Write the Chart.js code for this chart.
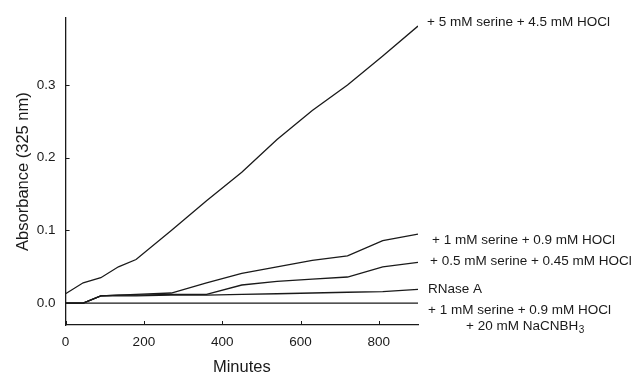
<!DOCTYPE html>
<html>
<head>
<meta charset="utf-8">
<script src="https://cdn.jsdelivr.net/npm/chart.js@4"></script>
<style>
  html, body { margin: 0; padding: 0; background: #fff; }
  #wrap { width: 638px; height: 375px; }
</style>
</head>
<body>
<div id="wrap"><canvas id="chart"></canvas></div>
<script>
// minutes
const minutes = [0, 45, 90, 135, 180, 270, 360, 450, 540, 630, 720, 810, 900];

// absorbance at 325 nm
const serine5 = [0.013, 0.028, 0.035, 0.05, 0.06, 0.1, 0.141, 0.18, 0.225, 0.265, 0.3, 0.34, 0.381];
const serine1 = [0, 0, 0.01, 0.011, 0.012, 0.014, 0.028, 0.041, 0.05, 0.059, 0.065, 0.086, 0.095];
const serine05 = [0, 0, 0.01, 0.011, 0.011, 0.012, 0.012, 0.025, 0.03, 0.033, 0.036, 0.05, 0.056];
const rnase = [0, 0, 0.01, 0.01, 0.01, 0.011, 0.011, 0.012, 0.013, 0.014, 0.015, 0.016, 0.019];
const cnbh = [0, 0, 0, 0, 0, 0, 0, 0, 0, 0, 0, 0, 0];

const seriesNames = [
    '+ 5 mM serine + 4.5 mM HOCl',
    '+ 1 mM serine + 0.9 mM HOCl',
    '+ 0.5 mM serine + 0.45 mM HOCl',
    'RNase A',
    '+ 1 mM serine + 0.9 mM HOCl'
];
const yTicks = [0, 0.1, 0.2, 0.3];
const xTicks = [0, 200, 400, 600, 800];

const FONT = 'Liberation Sans, Arial, sans-serif';
const INK = '#1a1a1a';

function pts(ys) {
    return ys.map((y, i) => ({ x: minutes[i], y: y }));
}

// right side labels, offset in pixels from the end of each line
const labelOffsets = [
    { dx: 9, dy: -4 },
    { dx: 14, dy: 6 },
    { dx: 12, dy: -1 },
    { dx: 10, dy: 0 },
    { dx: 10, dy: 7 }
];

const sideLabels = {
    id: 'sideLabels',
    afterDraw(chart) {
        const c = chart.ctx;
        const xs = chart.scales.x, ys = chart.scales.y;
        const area = chart.chartArea;

        // inward tick marks
        c.save();
        c.strokeStyle = INK;
        c.lineWidth = 1;
        yTicks.forEach(v => {
            const py = Math.round(ys.getPixelForValue(v)) + 0.5;
            c.beginPath();
            c.moveTo(area.left, py);
            c.lineTo(area.left + 4, py);
            c.stroke();
        });
        xTicks.forEach(v => {
            const px = Math.round(xs.getPixelForValue(v)) + 0.5;
            c.beginPath();
            c.moveTo(px, area.bottom);
            c.lineTo(px, area.bottom - 4);
            c.stroke();
        });

        // series labels
        c.fillStyle = INK;
        c.font = '13.5px ' + FONT;
        c.textBaseline = 'middle';
        chart.data.datasets.forEach((ds, i) => {
            const last = ds.data[ds.data.length - 1];
            const px = xs.getPixelForValue(last.x) + labelOffsets[i].dx;
            const py = ys.getPixelForValue(last.y) + labelOffsets[i].dy;
            c.fillText(seriesNames[i], px, py);
            if (i === 4) {
                const x2 = px + 38;
                const y2 = py + 16;
                c.fillText('+ 20 mM NaCNBH', x2, y2);
                const w = c.measureText('+ 20 mM NaCNBH').width;
                c.font = '10px ' + FONT;
                c.fillText('3', x2 + w + 0.5, y2 + 4);
            }
        });
        c.restore();
    }
};

const ctx = document.getElementById('chart').getContext('2d');

const chart = new Chart(ctx, {
    type: 'line',
    data: {
        datasets: [serine5, serine1, serine05, rnase, cnbh].map((ys, i) => ({
            label: seriesNames[i],
            data: pts(ys),
            borderColor: INK,
            borderWidth: 1.3,
            pointRadius: 0,
            tension: 0,
            fill: false
        }))
    },
    options: {
        responsive: true,
        maintainAspectRatio: false,
        animation: false,
        layout: { padding: { top: 16, right: 220, left: 0, bottom: -2 } },
        plugins: {
            legend: { display: false },
            tooltip: { enabled: false }
        },
        scales: {
            x: {
                type: 'linear',
                min: 0,
                max: 900,
                afterBuildTicks: s => { s.ticks = xTicks.map(v => ({ value: v })); },
                grid: { display: false, drawTicks: false },
                border: { display: true, color: INK, width: 1.3 },
                ticks: {
                    color: INK,
                    font: { family: FONT, size: 13.5 },
                    padding: 9,
                    maxRotation: 0
                },
                title: {
                    display: true,
                    text: 'Minutes',
                    color: INK,
                    font: { family: FONT, size: 16.5 },
                    padding: { top: -2, bottom: 0 }
                }
            },
            y: {
                type: 'linear',
                min: -0.03,
                max: 0.392,
                afterBuildTicks: s => { s.ticks = yTicks.map(v => ({ value: v })); },
                grid: { display: false, drawTicks: false },
                border: { display: true, color: INK, width: 1.3 },
                ticks: {
                    color: INK,
                    font: { family: FONT, size: 13.5 },
                    padding: 10,
                    callback: v => v.toFixed(1)
                },
                title: {
                    display: true,
                    text: 'Absorbance (325 nm)',
                    color: INK,
                    font: { family: FONT, size: 16.5 },
                    padding: { top: 14, bottom: -7 }
                }
            }
        }
    },
    plugins: [sideLabels]
});
</script>
</body>
</html>
